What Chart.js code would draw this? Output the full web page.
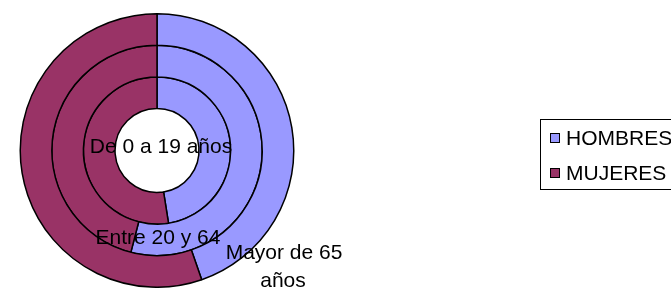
<!DOCTYPE html>
<html>
<head>
<meta charset="utf-8">
<script src="https://cdn.jsdelivr.net/npm/chart.js@4/dist/chart.umd.min.js"></script>
<style>
    html, body { margin: 0; padding: 0; background: #fff; }
    canvas { display: block; }
</style>
</head>
<body>
<canvas id="rings" width="671" height="288"></canvas>
<script>
// series and categories
const sexes = ['HOMBRES', 'MUJERES'];
const ageGroups = ['De 0 a 19 años', 'Entre 20 y 64', 'Mayor de 65 años'];
const menShare = [47.5, 54, 44.7];   // % hombres per age group
const womenShare = [52.5, 46, 55.3]; // % mujeres per age group
const sliceColors = ['#9999FF', '#993366'];

document.addEventListener('DOMContentLoaded', function () {
    const ctx = document.getElementById('rings').getContext('2d');
    const font = '21px "Liberation Sans", Arial, sans-serif';

    // chart.js draws the first dataset as the outer ring, so reverse
    const datasets = ageGroups.map(function (g, i) {
        return {
            label: g,
            data: [menShare[i], womenShare[i]],
            backgroundColor: sliceColors,
            borderColor: '#000',
            borderWidth: 1.5
        };
    }).reverse();

    // ring labels written over the chart, like the Excel original
    const ringLabels = {
        id: 'ringLabels',
        afterDatasetsDraw: function (chart) {
            const arc = chart.getDatasetMeta(0).data[0];
            const cx = arc.x, cy = arc.y;
            const c = chart.ctx;
            c.save();
            c.font = font;
            c.fillStyle = '#000';
            c.textAlign = 'center';
            c.textBaseline = 'middle';
            c.fillText(ageGroups[0], cx + 4, cy - 3);
            c.fillText(ageGroups[1], cx + 1, cy + 88);
            c.fillText('Mayor de 65', cx + 127, cy + 103);
            c.fillText('años', cx + 126, cy + 131);
            c.restore();
        }
    };

    // boxed legend at the right
    const boxLegend = {
        id: 'boxLegend',
        afterDraw: function (chart) {
            const c = chart.ctx;
            c.save();
            c.strokeStyle = '#000';
            c.lineWidth = 1;
            c.strokeRect(540.5, 119.5, 150, 70);
            c.font = font;
            c.textBaseline = 'middle';
            sexes.forEach(function (s, i) {
                const y = 138 + i * 35;
                c.fillStyle = sliceColors[i];
                c.fillRect(550, y - 5, 10, 10);
                c.strokeRect(550.5, y - 4.5, 9, 9);
                c.fillStyle = '#000';
                c.fillText(s, 566, y + 1);
            });
            c.restore();
        }
    };

    new Chart(ctx, {
        type: 'doughnut',
        data: { labels: sexes, datasets: datasets },
        options: {
            responsive: false,
            animation: false,
            cutout: '30.7%',
            layout: { padding: { left: 19, top: 13, bottom: 0, right: 376 } },
            plugins: {
                legend: { display: false },
                tooltip: { enabled: false }
            }
        },
        plugins: [ringLabels, boxLegend]
    });
});
</script>
</body>
</html>
